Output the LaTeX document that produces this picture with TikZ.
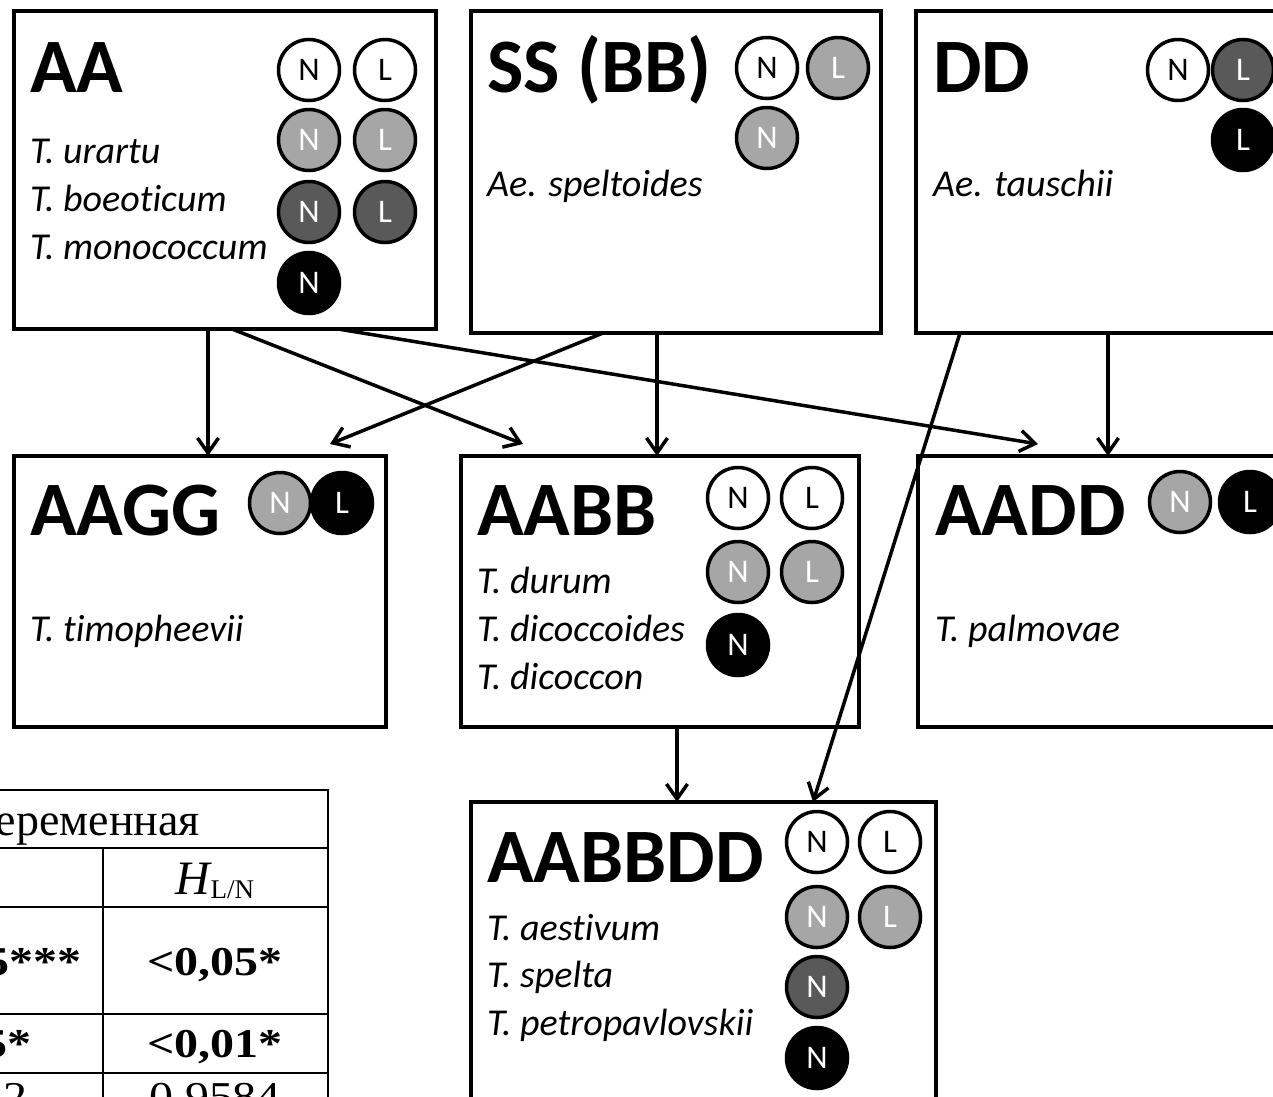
\documentclass[tikz,border=0pt]{standalone}
\usepackage{fontspec}
\usepackage{graphicx}
\setmainfont{Carlito}[RawFeature={-liga;-clig;-calt;-dlig}]
\newfontfamily\tms{Liberation Serif}
\usetikzlibrary{arrows.meta}
\definecolor{lg}{HTML}{A6A6A6}
\definecolor{dg}{HTML}{595959}
\begin{document}
\begin{tikzpicture}[x=1pt,y=-1pt,
  box/.style={draw, line width=3.5pt, inner sep=0pt, outer sep=0pt, anchor=north west},
  title/.style={anchor=base west, inner sep=0pt, font=\fontsize{77}{77}\selectfont\bfseries},
  sp/.style={anchor=base west, inner sep=0pt, font=\fontsize{38}{38}\selectfont\itshape},
  circ/.style={circle, draw, line width=3.5pt, minimum size=61pt, inner sep=0pt, font=\fontsize{33}{33}\selectfont},
  cw/.style={circ, fill=white, text=black},
  cl/.style={circ, fill=lg, text=white},
  cd/.style={circ, fill=dg, text=white},
  cb/.style={circ, fill=black, text=white},
  arr/.style={line width=3.5pt, -{Straight Barb[length=15pt,width=21pt]}},
  tline/.style={line width=1.5pt},
  tt/.style={inner sep=0pt},
  tb/.style={inner sep=0pt, font=\tms\fontsize{41}{41}\selectfont\bfseries},
  tr/.style={inner sep=0pt, font=\tms\fontsize{41}{41}\selectfont}
]
\useasboundingbox (0,0) rectangle (1273,1096);
\clip (0,0) rectangle (1273,1096);

% boxes
\node[box, minimum width=422pt, minimum height=318pt] (aa) at (14,11) {};
\node[box, minimum width=410pt, minimum height=322pt] (ss) at (471,11) {};
\node[box, minimum width=400pt, minimum height=322pt] (dd) at (916,11) {};
\node[box, minimum width=372pt, minimum height=271pt] (aagg) at (14,456) {};
\node[box, minimum width=398pt, minimum height=271pt] (aabb) at (461,456) {};
\node[box, minimum width=400pt, minimum height=271pt] (aadd) at (918,456) {};
\node[box, minimum width=465pt, minimum height=320pt] (aabbdd) at (471,802) {};

% titles
\node[title] (taa) at (30,92) {AA};
\node[title] (tss) at (487,92) {SS (BB)};
\node[title] (tdd) at (933,92) {DD};
\node[title] (taagg) at (30,535) {AAGG};
\node[title] (taabb) at (477,535) {AABB};
\node[title] (taadd) at (935,535) {AADD};
\node[title] (taabbdd) at (487,882) {AABBDD};

% species
\node[sp] (s1) at (30,163) {T. urartu};
\node[sp] (s2) at (30,211) {T. boeoticum};
\node[sp] (s3) at (30,259) {T. monococcum};
\node[sp] (s4) at (487,196) {Ae. speltoides};
\node[sp] (s5) at (933,196) {Ae. tauschii};
\node[sp] (s6) at (30,641) {T. t\kern0pt imopheevii};
\node[sp] (s7) at (477,593) {T. durum};
\node[sp] (s8) at (477,641) {T. dicoccoides};
\node[sp] (s9) at (477,689) {T. dicoccon};
\node[sp] (s10) at (935,641) {T. palmovae};
\node[sp] (s11) at (487,940) {T. aest\kern0pt ivum};
\node[sp] (s12) at (487,987) {T. spelta};
\node[sp] (s13) at (487,1035) {T. petropavlovskii};

% circles AA
\node[cw] (a1) at (309,70) {N};
\node[cw] (a2) at (385,70) {L};
\node[cl] (a3) at (309,140) {N};
\node[cl] (a4) at (385,140) {L};
\node[cd] (a5) at (309,212) {N};
\node[cd] (a6) at (385,212) {L};
\node[cb] (a7) at (309,283) {N};
% circles SS
\node[cw] (b1) at (767,68) {N};
\node[cl] (b2) at (838,68) {L};
\node[cl] (b3) at (767,138) {N};
% circles DD
\node[cw] (d1) at (1178,70) {N};
\node[cd] (d2) at (1243,70) {L};
\node[cb] (d3) at (1243,140) {L};
% circles AAGG
\node[cl] (g1) at (280,503) {N};
\node[cb] (g2) at (342,503) {L};
% circles AABB
\node[cw] (e1) at (738,498) {N};
\node[cw] (e2) at (812,498) {L};
\node[cl] (e3) at (738,572) {N};
\node[cl] (e4) at (812,572) {L};
\node[cb] (e5) at (738,645) {N};
% circles AADD
\node[cl] (f1) at (1180,502) {N};
\node[cb] (f2) at (1250,502) {L};
% circles AABBDD
\node[cw] (h1) at (817,842) {N};
\node[cw] (h2) at (890,842) {L};
\node[cl] (h3) at (817,917) {N};
\node[cl] (h4) at (890,917) {L};
\node[cd] (h5) at (817,987) {N};
\node[cb] (h6) at (817,1058) {N};

% arrows
\draw[arr] ([xshift=194pt]aa.south west) -- ([xshift=194pt]aagg.north west);
\draw[arr] ([xshift=218pt]aa.south west) -- ([xshift=62pt,yshift=12pt]aabb.north west);
\draw[arr] ([xshift=324pt]aa.south west) -- ([xshift=120pt,yshift=12pt]aadd.north west);
\draw[arr] ([xshift=132pt]ss.south west) -- ([xshift=316pt,yshift=12pt]aagg.north west);
\draw[arr] ([xshift=186pt]ss.south west) -- ([xshift=196pt]aabb.north west);
\draw[arr] ([xshift=44pt]dd.south west) -- ([xshift=342pt]aabbdd.north west);
\draw[arr] ([xshift=192pt]dd.south west) -- ([xshift=190pt]aadd.north west);
\draw[arr] ([xshift=216pt]aabb.south west) -- ([xshift=206pt]aabbdd.north west);

% table
\draw[tline] (-20,790) -- (328,790);
\draw[tline] (-20,848) -- (328,848);
\draw[tline] (-20,907) -- (328,907);
\draw[tline] (-20,1014) -- (328,1014);
\draw[tline] (-20,1073) -- (328,1073);
\draw[tline] (103,848) -- (103,1120);
\draw[line width=2pt] (328,789) -- (328,1120);
\node[tt, anchor=base east, font=\tms\fontsize{46}{46}\selectfont] (th) at (200,835) {Переменная};
\node[tt, anchor=base] (thln) at (215,894) {{\tms\fontsize{48}{48}\selectfont\itshape H}\raisebox{-4pt}{\tms\fontsize{27}{27}\selectfont L/N}};
\node[tb, anchor=base east] (c1) at (82,975) {\scalebox{1.17}[1]{5***}};
\node[tb, anchor=base] (c2) at (215,975) {\scalebox{1.17}[1]{<0,05*}};
\node[tb, anchor=base east] (c3) at (32,1057) {\scalebox{1.17}[1]{5*}};
\node[tb, anchor=base] (c4) at (215,1057) {\scalebox{1.17}[1]{<0,01*}};
\node[tr, anchor=base east] (c5) at (28,1110) {\scalebox{1.17}[1]{32}};
\node[tr, anchor=base] (c6) at (215,1110) {\scalebox{1.17}[1]{0,9584}};
\end{tikzpicture}
\end{document}
